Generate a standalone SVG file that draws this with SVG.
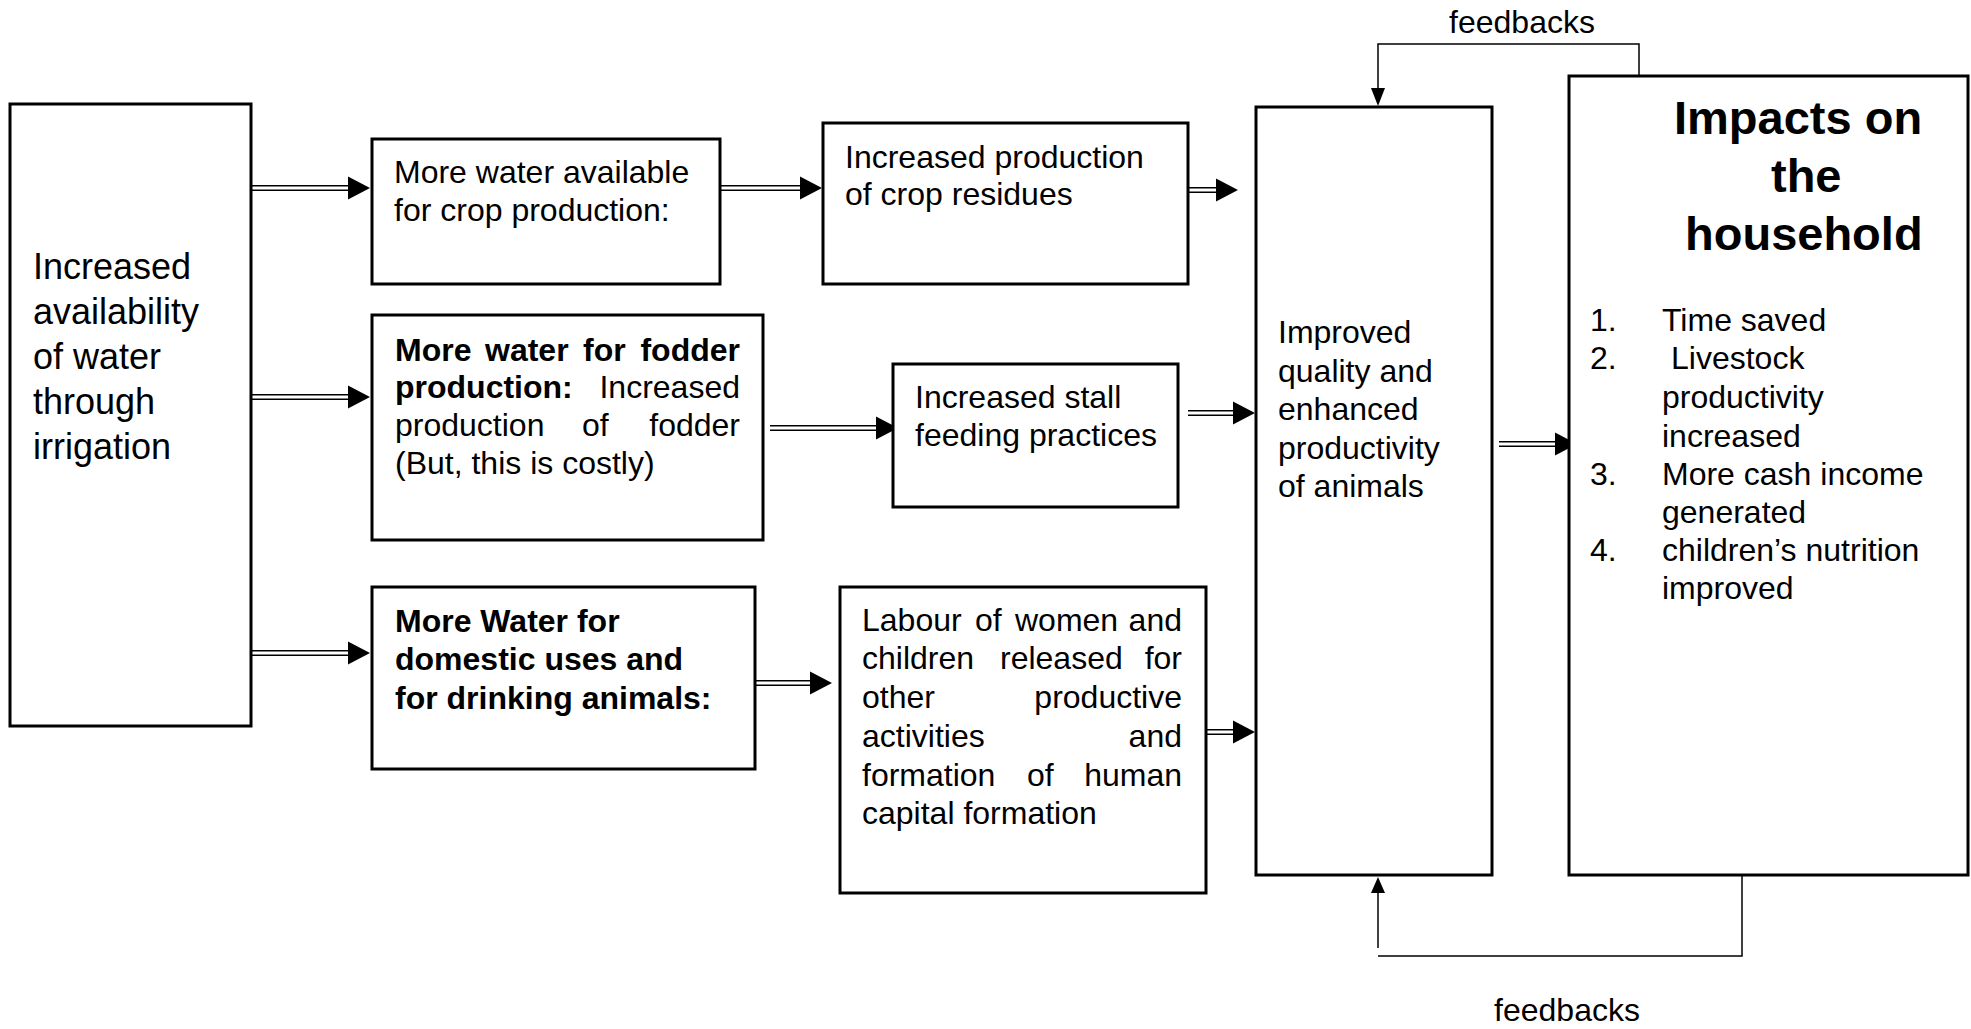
<svg xmlns="http://www.w3.org/2000/svg" width="1971" height="1029" viewBox="0 0 1971 1029">
<style>
text{font-family:"Liberation Sans",Arial,sans-serif;font-size:32px;fill:#000}
.big{font-size:36px}
.b{font-weight:bold}
.title{font-size:47px;font-weight:bold}
.box{fill:#fff;stroke:#000;stroke-width:3}
.dl{stroke:#000;stroke-width:1.6;fill:none}
.ah{fill:#000}
.fb{stroke:#000;stroke-width:1.5;fill:none}
</style>
<rect width="1971" height="1029" fill="#fff"/>
<g id="connectors">
  <g id="a1"><path class="dl" d="M251 185.7H349M251 190.3H349"/><polygon class="ah" points="370,188 348,176.5 348,199.5"/></g>
  <g id="a2"><path class="dl" d="M251 394.7H349M251 399.3H349"/><polygon class="ah" points="370,397 348,385.5 348,408.5"/></g>
  <g id="a3"><path class="dl" d="M251 650.7H349M251 655.3H349"/><polygon class="ah" points="370,653 348,641.5 348,664.5"/></g>
  <g id="a4"><path class="dl" d="M720 185.7H801M720 190.3H801"/><polygon class="ah" points="822,188 800,176.5 800,199.5"/></g>
  <g id="a5"><path class="dl" d="M1188 187.7H1217M1188 192.3H1217"/><polygon class="ah" points="1238,190 1216,178.5 1216,201.5"/></g>
  <g id="a6"><path class="dl" d="M770 425.7H877M770 430.3H877"/><polygon class="ah" points="898,428 876,416.5 876,439.5"/></g>
  <g id="a7"><path class="dl" d="M1188 410.7H1234M1188 415.3H1234"/><polygon class="ah" points="1255,413 1233,401.5 1233,424.5"/></g>
  <g id="a8"><path class="dl" d="M755 680.7H811M755 685.3H811"/><polygon class="ah" points="832,683 810,671.5 810,694.5"/></g>
  <g id="a9"><path class="dl" d="M1206 729.7H1234M1206 734.3H1234"/><polygon class="ah" points="1255,732 1233,720.5 1233,743.5"/></g>
  <g id="a10"><path class="dl" d="M1499 441.7H1556M1499 446.3H1556"/><polygon class="ah" points="1577,444 1555,432.5 1555,455.5"/></g>
  <g id="fb-top"><polyline class="fb" points="1639,76 1639,44 1378,44 1378,90"/><polygon class="ah" points="1378,106 1371,88 1385,88"/></g>
  <g id="fb-bottom"><polyline class="fb" points="1742,875 1742,956 1378,956"/><line class="fb" x1="1378" y1="948" x2="1378" y2="890"/><polygon class="ah" points="1378,877 1371,893 1385,893"/></g>
</g>
<g id="n-irrigation">
  <rect class="box" x="10" y="104" width="241" height="622"/>
  <text class="big" x="33" y="279">Increased</text>
  <text class="big" x="33" y="324">availability</text>
  <text class="big" x="33" y="369">of water</text>
  <text class="big" x="33" y="414">through</text>
  <text class="big" x="33" y="459">irrigation</text>
</g>
<g id="n-crop">
  <rect class="box" x="372" y="139" width="348" height="145"/>
  <text x="394" y="183">More water available</text>
  <text x="394" y="221">for crop production:</text>
</g>
<g id="n-residues">
  <rect class="box" x="823" y="123" width="365" height="161"/>
  <text x="845" y="168">Increased production</text>
  <text x="845" y="205">of crop residues</text>
</g>
<g id="n-fodder">
  <rect class="box" x="372" y="315" width="391" height="225"/>
  <text class="b" y="361"><tspan x="395">More</tspan><tspan x="485">water</tspan><tspan x="583">for</tspan><tspan x="740" text-anchor="end">fodder</tspan></text>
  <text y="398"><tspan x="395" font-weight="bold">production:</tspan><tspan x="740" text-anchor="end">Increased</tspan></text>
  <text y="436"><tspan x="395">production</tspan><tspan x="582">of</tspan><tspan x="740" text-anchor="end">fodder</tspan></text>
  <text x="395" y="474">(But, this is costly)</text>
</g>
<g id="n-stall">
  <rect class="box" x="893" y="364" width="285" height="143"/>
  <text x="915" y="408">Increased stall</text>
  <text x="915" y="446">feeding practices</text>
</g>
<g id="n-domestic">
  <rect class="box" x="372" y="587" width="383" height="182"/>
  <text class="b" x="395" y="632">More Water for</text>
  <text class="b" x="395" y="670">domestic uses and</text>
  <text class="b" x="395" y="709">for drinking animals:</text>
</g>
<g id="n-labour">
  <rect class="box" x="840" y="587" width="366" height="306"/>
  <text y="631"><tspan x="862">Labour</tspan><tspan x="975">of</tspan><tspan x="1015">women</tspan><tspan x="1182" text-anchor="end">and</tspan></text>
  <text y="669"><tspan x="862">children</tspan><tspan x="1000">released</tspan><tspan x="1182" text-anchor="end">for</tspan></text>
  <text y="708"><tspan x="862">other</tspan><tspan x="1182" text-anchor="end">productive</tspan></text>
  <text y="747"><tspan x="862">activities</tspan><tspan x="1182" text-anchor="end">and</tspan></text>
  <text y="786"><tspan x="862">formation</tspan><tspan x="1027">of</tspan><tspan x="1182" text-anchor="end">human</tspan></text>
  <text x="862" y="824">capital formation</text>
</g>
<g id="n-improved">
  <rect class="box" x="1256" y="107" width="236" height="768"/>
  <text x="1278" y="343">Improved</text>
  <text x="1278" y="382">quality and</text>
  <text x="1278" y="420">enhanced</text>
  <text x="1278" y="459">productivity</text>
  <text x="1278" y="497">of animals</text>
</g>
<g id="n-impacts">
  <rect class="box" x="1569" y="76" width="399" height="799"/>
  <text class="title" x="1674" y="134">Impacts on</text>
  <text class="title" x="1771" y="192">the</text>
  <text class="title" x="1685" y="250">household</text>
  <text x="1590" y="331">1.</text><text x="1662" y="331">Time saved</text>
  <text x="1590" y="369">2.</text><text x="1671" y="369">Livestock</text>
  <text x="1662" y="408">productivity</text>
  <text x="1662" y="447">increased</text>
  <text x="1590" y="485">3.</text><text x="1662" y="485">More cash income</text>
  <text x="1662" y="523">generated</text>
  <text x="1590" y="561">4.</text><text x="1662" y="561">children’s nutrition</text>
  <text x="1662" y="599">improved</text>
</g>
<g id="labels">
  <text x="1522" y="33" text-anchor="middle">feedbacks</text>
  <text x="1567" y="1021" text-anchor="middle">feedbacks</text>
</g>
</svg>
